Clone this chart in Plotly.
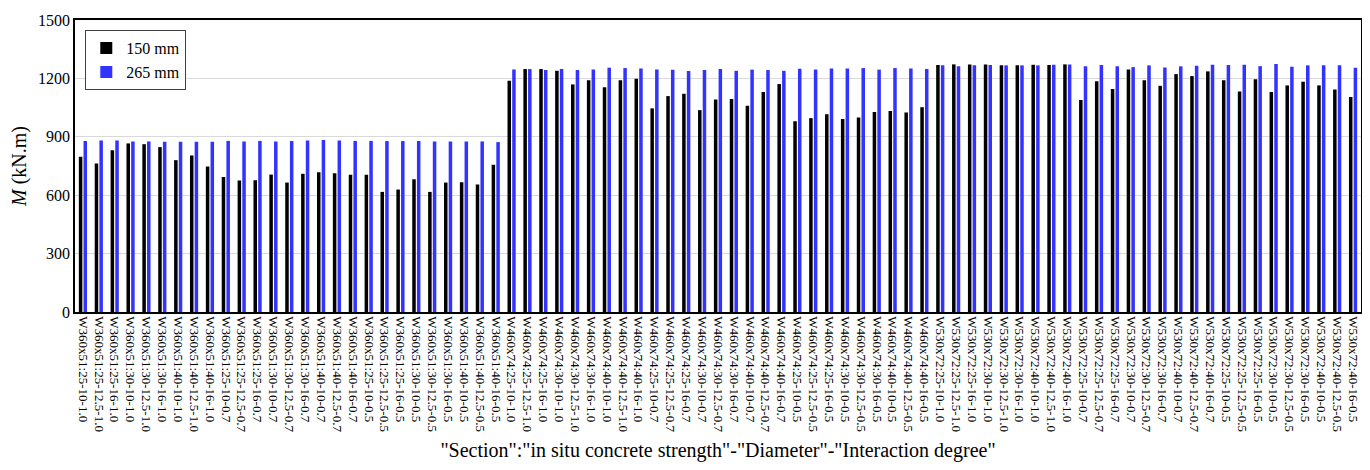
import plotly.graph_objects as go

sections = ["W360x51", "W460x74", "W530x72"]
degrees = ["1.0", "0.7", "0.5"]
strengths = ["25", "30", "40"]
diameters = ["10", "12.5", "16"]

categories = [f"{s}:{c}-{d}-{g}" for s in sections for g in degrees for c in strengths for d in diameters]

m150_w360 = [797, 763, 831, 866, 862, 847, 780, 804, 747,
             694, 675, 677, 706, 665, 710, 718, 713, 705,
             705, 617, 629, 682, 617, 665, 667, 655, 756]
m150_w460 = [1188, 1248, 1248, 1239, 1169, 1190, 1155, 1190, 1198,
             1046, 1109, 1121, 1037, 1092, 1094, 1059, 1130, 1171,
             980, 996, 1016, 991, 999, 1027, 1032, 1025, 1052]
m150_w530 = [1269, 1272, 1272, 1272, 1267, 1267, 1270, 1269, 1272,
             1089, 1186, 1145, 1246, 1190, 1162, 1222, 1212, 1236,
             1190, 1133, 1196, 1130, 1164, 1183, 1164, 1143, 1104]

m265_w360 = [878, 881, 881, 876, 876, 874, 874, 874, 874,
             879, 876, 879, 876, 879, 881, 883, 881, 879,
             879, 878, 878, 879, 876, 876, 876, 876, 873]
m265_w460 = [1246, 1248, 1243, 1248, 1243, 1246, 1255, 1253, 1251,
             1246, 1245, 1238, 1243, 1248, 1239, 1245, 1243, 1239,
             1250, 1246, 1251, 1251, 1253, 1245, 1253, 1251, 1248]
m265_w530 = [1267, 1263, 1267, 1269, 1267, 1267, 1267, 1270, 1272,
             1263, 1269, 1263, 1258, 1267, 1256, 1262, 1265, 1270,
             1269, 1270, 1263, 1274, 1260, 1267, 1267, 1267, 1255]

m150 = m150_w360 + m150_w460 + m150_w530
m265 = m265_w360 + m265_w460 + m265_w530

serif = "Liberation Serif"

fig = go.Figure()
fig.add_trace(go.Bar(x=categories, y=m150, name="150 mm",
                     marker=dict(color="#000000", line=dict(width=0))))
fig.add_trace(go.Bar(x=categories, y=m265, name="265 mm",
                     marker=dict(color="#3333ff", line=dict(width=0))))

fig.update_layout(
    width=1354, height=454,
    margin=dict(l=67, r=1, t=12, b=150),
    paper_bgcolor="white", plot_bgcolor="white",
    barmode="group", bargap=0.41, bargroupgap=0.25,
    font=dict(family=serif, color="#000000"),
    legend=dict(x=0.008, y=0.965, xanchor="left", yanchor="top",
                bordercolor="#404040", borderwidth=1, bgcolor="white",
                font=dict(size=16, family=serif), tracegroupgap=0,
                itemwidth=30),
    showlegend=True,
)
fig.update_xaxes(
    type="category", tickangle=90, tickfont=dict(size=13, family=serif),
    tickmode="array", tickvals=categories, ticktext=categories,
    automargin=False,
    showline=True, linecolor="#000000", linewidth=1.5, mirror=True,
    ticks="", showgrid=False,
    title=dict(text='"Section":"in situ concrete strength"-"Diameter"-"Interaction degree"',
               font=dict(size=20, family=serif), standoff=28),
)
fig.update_yaxes(
    range=[0, 1500], dtick=300, tickfont=dict(size=16, family=serif),
    automargin=False,
    showline=True, linecolor="#000000", linewidth=1.5, mirror=True,
    showgrid=True, gridcolor="#d9d9d9", gridwidth=1, zeroline=False,
    ticks="", ticklen=0,
    title=dict(text="<i>M</i> (kN.m)", font=dict(size=20, family=serif), standoff=6),
)

fig.write_html("out.html")
